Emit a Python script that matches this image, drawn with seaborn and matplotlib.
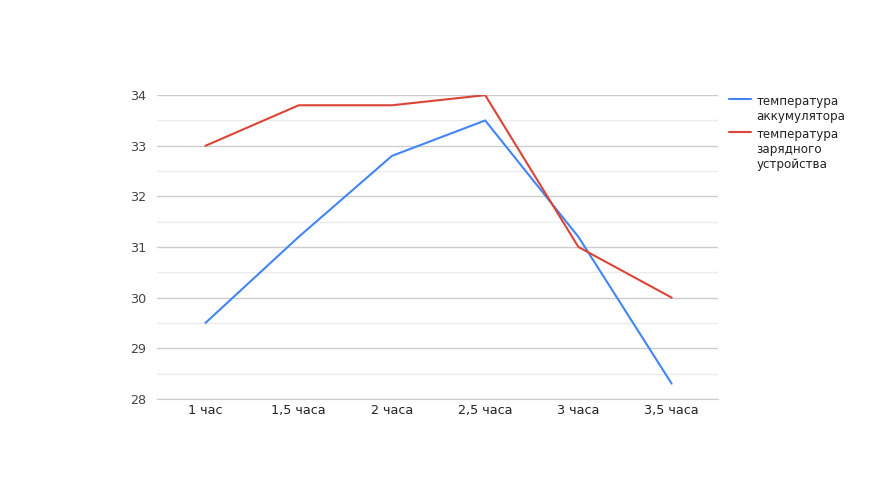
import matplotlib
matplotlib.use("Agg")
import matplotlib.pyplot as plt
import seaborn as sns
import pandas as pd
from matplotlib.ticker import MultipleLocator

# данные
hours = ["1 час", "1,5 часа", "2 часа", "2,5 часа", "3 часа", "3,5 часа"]
battery_temp = [29.5, 31.2, 32.8, 33.5, 31.2, 28.3]
charger_temp = [33.0, 33.8, 33.8, 34.0, 31.0, 30.0]
series_names = ["температура\nаккумулятора", "температура\nзарядного\nустройства"]

df = pd.DataFrame({
    "x": list(range(len(hours))) * 2,
    "temp": battery_temp + charger_temp,
    "series": [series_names[0]] * len(hours) + [series_names[1]] * len(hours),
})

sns.set_style("white")
plt.rcParams["font.family"] = ["DejaVu Sans"]

fig = plt.figure(figsize=(8.77, 4.93), dpi=100)
ax = fig.add_axes([0.179, 0.191, 0.640, 0.616])

sns.lineplot(data=df, x="x", y="temp", hue="series",
             palette=["#4285f4", "#db4437"], linewidth=1.5, ax=ax, sort=False)

ax.set_xlim(-0.52, 5.5)
ax.set_ylim(28, 34)
ax.set_xticks(range(len(hours)))
ax.set_xticklabels(hours)
ax.yaxis.set_major_locator(MultipleLocator(1))
ax.yaxis.set_minor_locator(MultipleLocator(0.5))
ax.grid(axis="y", which="major", color="#cccccc", linewidth=1)
ax.grid(axis="y", which="minor", color="#ebebeb", linewidth=1)
ax.set_axisbelow(True)
for s in ["top", "right", "left"]:
    ax.spines[s].set_visible(False)
ax.spines["bottom"].set_color("#cccccc")
ax.tick_params(axis="both", which="both", length=0, labelsize=9.2, colors="#444444", pad=8)
ax.tick_params(axis="x", labelcolor="#222222", pad=4)
ax.set_xlabel("")
ax.set_ylabel("")

leg = ax.legend(loc="upper left", bbox_to_anchor=(1.0, 1.035), frameon=False,
                fontsize=8.6, handlelength=1.8, handletextpad=0.5, labelspacing=0.4)
for t in leg.get_texts():
    t.set_color("#222222")
# маркер легенды на уровне первой строки подписи
for col in leg._legend_handle_box.get_children():
    for row in col.get_children():
        row.align = "top"

fig.savefig("out.png", dpi=100)
